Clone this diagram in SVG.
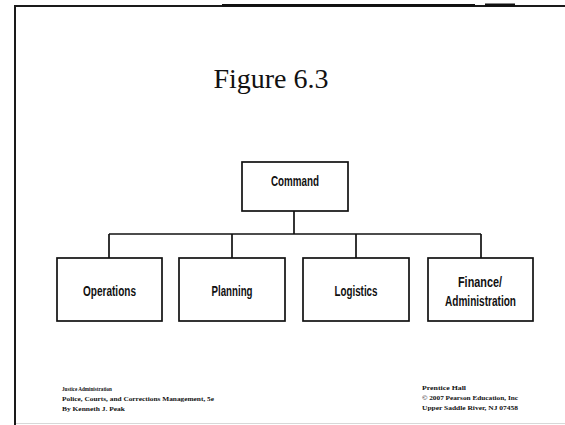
<svg xmlns="http://www.w3.org/2000/svg" width="565" height="425" viewBox="0 0 565 425">
  <style>
    .box { fill: #ffffff; stroke: #111111; stroke-width: 1.7; }
    .wire { fill: none; stroke: #111111; stroke-width: 1.7; }
    .lbl { font-family: "Liberation Sans", Arial, sans-serif; font-size: 14px; font-weight: bold; fill: #111111; text-anchor: middle; }
    .foot { font-family: "Liberation Serif", "Times New Roman", serif; font-size: 7px; font-weight: bold; fill: #111111; }
  </style>

  <rect x="0" y="0" width="565" height="425" fill="#ffffff"/>

  <!-- slide frame -->
  <g id="frame">
    <rect x="14" y="5" width="551" height="2" fill="#1a1a1a"/>
    <rect x="14" y="5" width="2" height="420" fill="#1a1a1a"/>
    <rect x="222" y="4" width="253" height="2.5" fill="#111111"/>
    <rect x="485" y="3.5" width="30" height="3" fill="#111111"/>
    <rect x="16" y="423" width="549" height="1" fill="#d8d8d8"/>
  </g>

  <text x="271" y="88" font-family="Liberation Serif, 'Times New Roman', serif" font-size="28" fill="#111111" text-anchor="middle">Figure 6.3</text>

  <!-- connectors -->
  <g id="connectors">
    <line class="wire" x1="294" y1="211" x2="294" y2="234"/>
    <line class="wire" x1="109" y1="234" x2="481" y2="234"/>
    <line class="wire" x1="109" y1="234" x2="109" y2="258"/>
    <line class="wire" x1="232" y1="234" x2="232" y2="258"/>
    <line class="wire" x1="356" y1="234" x2="356" y2="258"/>
    <line class="wire" x1="481" y1="234" x2="481" y2="258"/>
  </g>

  <g id="command">
    <rect class="box" x="242" y="162" width="106" height="49"/>
    <text class="lbl" x="295" y="186" textLength="48" lengthAdjust="spacingAndGlyphs">Command</text>
  </g>

  <g id="operations">
    <rect class="box" x="57" y="258" width="105" height="63"/>
    <text class="lbl" x="109.5" y="296" textLength="53" lengthAdjust="spacingAndGlyphs">Operations</text>
  </g>

  <g id="planning">
    <rect class="box" x="179" y="258" width="106" height="63"/>
    <text class="lbl" x="232" y="296" textLength="41" lengthAdjust="spacingAndGlyphs">Planning</text>
  </g>

  <g id="logistics">
    <rect class="box" x="303" y="258" width="106" height="63"/>
    <text class="lbl" x="356" y="296" textLength="43" lengthAdjust="spacingAndGlyphs">Logistics</text>
  </g>

  <g id="finance">
    <rect class="box" x="428" y="258" width="105" height="63"/>
    <text class="lbl" x="480" y="287" textLength="44" lengthAdjust="spacingAndGlyphs">Finance/</text>
    <text class="lbl" x="480.5" y="306" textLength="71" lengthAdjust="spacingAndGlyphs">Administration</text>
  </g>

  <!-- footers -->
  <g id="footer-left">
    <text class="foot" x="62" y="391" textLength="50" lengthAdjust="spacingAndGlyphs">Justice Administration</text>
    <text class="foot" x="62" y="401" textLength="152" lengthAdjust="spacingAndGlyphs">Police, Courts, and Corrections Management, 5e</text>
    <text class="foot" x="62" y="411" textLength="63" lengthAdjust="spacingAndGlyphs">By Kenneth J. Peak</text>
  </g>
  <g id="footer-right">
    <text class="foot" x="422" y="390" textLength="44" lengthAdjust="spacingAndGlyphs">Prentice Hall</text>
    <text class="foot" x="422" y="400" textLength="96" lengthAdjust="spacingAndGlyphs">© 2007 Pearson Education, Inc</text>
    <text class="foot" x="422" y="410" textLength="96" lengthAdjust="spacingAndGlyphs">Upper Saddle River, NJ 07458</text>
  </g>
</svg>
